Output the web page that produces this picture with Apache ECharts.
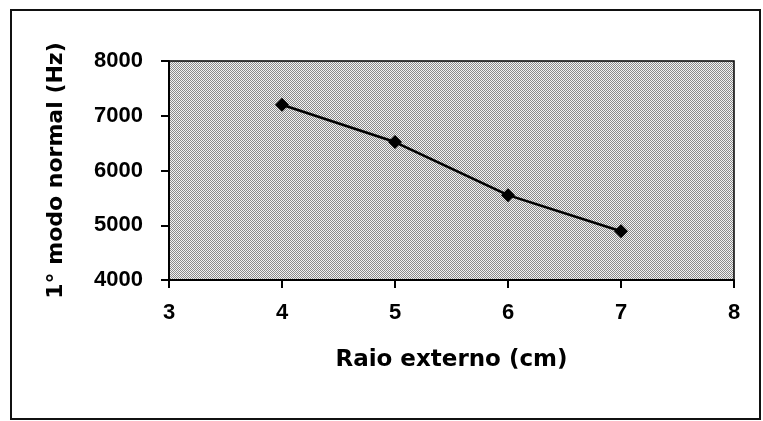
<!DOCTYPE html>
<html>
<head>
<meta charset="utf-8">
<script src="https://cdn.jsdelivr.net/npm/echarts@6/dist/echarts.min.js"></script>
<style>
html,body{margin:0;padding:0;background:#fff;}
#frame{position:absolute;left:10px;top:9px;width:751px;height:411px;border:2px solid #111;box-sizing:border-box;}
#c{position:absolute;left:0;top:0;width:763px;height:421px;}
</style>
</head>
<body>
<div id="frame"></div>
<div id="c"></div>
<script>
const raio = [4, 5, 6, 7];
const freq = [7200, 6520, 5550, 4890];
const xTicks = [3, 4, 5, 6, 7, 8];
const yTicks = [4000, 5000, 6000, 7000, 8000];

// halftone-like texture for the plot area
const pat = document.createElement('canvas');
pat.width = 2; pat.height = 2;
const pc = pat.getContext('2d');
pc.fillStyle = '#f2f2f2'; pc.fillRect(0, 0, 2, 2);
pc.fillStyle = '#8a8a8a'; pc.fillRect(0, 0, 1, 1); pc.fillRect(1, 1, 1, 1);

const chart = echarts.init(document.getElementById('c'), null, {renderer: 'canvas'});
const tickFont = 'Liberation Sans, Arial, sans-serif';
const titleFont = 'DejaVu Sans, sans-serif';
chart.setOption({
  backgroundColor: 'transparent',
  animation: false,
  grid: {left: 169, right: 29, top: 61, bottom: 141, show: true,
         backgroundColor: {image: pat, repeat: 'repeat'}, borderColor: '#000', borderWidth: 1.5},
  xAxis: {
    type: 'value', min: xTicks[0], max: xTicks[xTicks.length-1], interval: 1,
    name: 'Raio externo (cm)', nameLocation: 'middle', nameGap: 69,
    nameTextStyle: {fontFamily: titleFont, fontWeight: 'bold', fontSize: 23, color: '#000'},
    axisLine: {show: true, lineStyle: {color: '#000', width: 2}},
    axisTick: {show: true, length: 8, lineStyle: {color: '#000', width: 2}},
    axisLabel: {fontFamily: tickFont, fontWeight: 'bold', fontSize: 22, color: '#000', margin: 22,
                formatter: v => String(v)},
    splitLine: {show: false}
  },
  yAxis: {
    type: 'value', min: yTicks[0], max: yTicks[yTicks.length-1], interval: 1000,
    name: '1° modo normal (Hz)', nameLocation: 'middle', nameGap: 102, nameRotate: 90,
    nameTextStyle: {fontFamily: titleFont, fontWeight: 'bold', fontSize: 22, color: '#000'},
    axisLine: {show: true, lineStyle: {color: '#000', width: 2}},
    axisTick: {show: true, length: 8, lineStyle: {color: '#000', width: 2}},
    axisLabel: {fontFamily: tickFont, fontWeight: 'bold', fontSize: 22, color: '#000', margin: 26,
                formatter: v => String(v)},
    splitLine: {show: false}
  },
  series: [{
    type: 'line',
    data: raio.map((x, i) => [x, freq[i]]),
    symbol: 'diamond', symbolSize: 14,
    itemStyle: {color: '#000'},
    lineStyle: {color: '#000', width: 2.5}
  }]
});
</script>
</body>
</html>
